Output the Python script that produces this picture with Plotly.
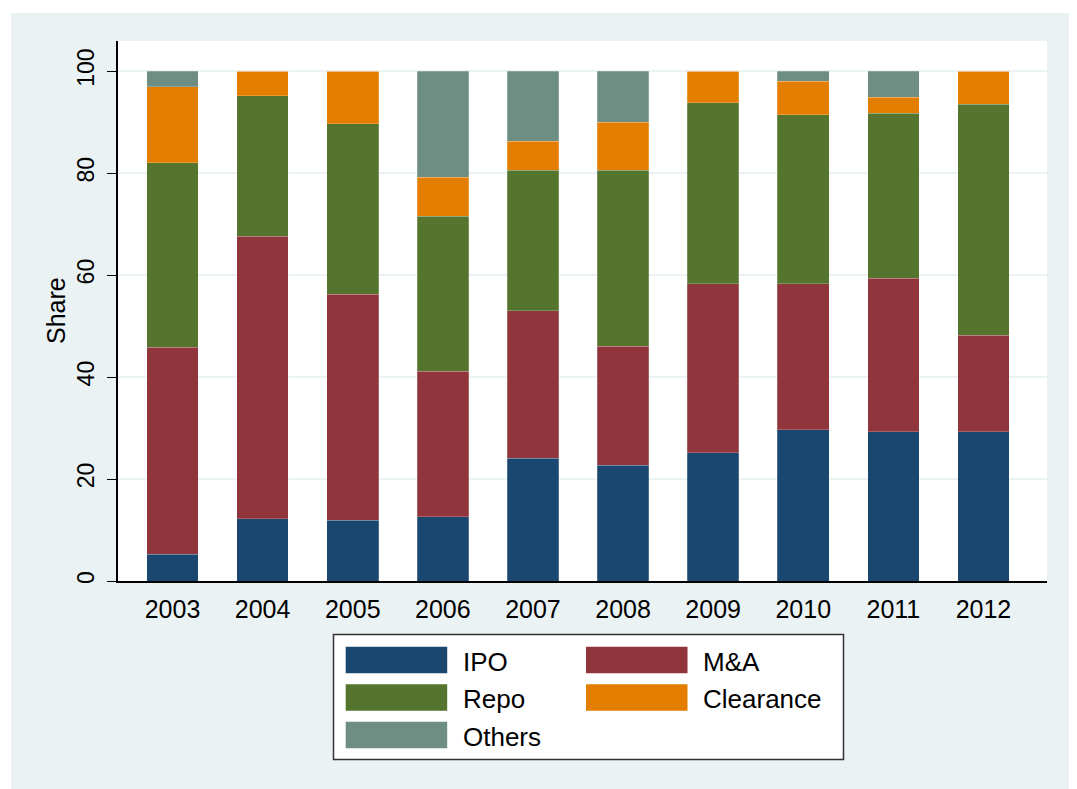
import plotly.graph_objects as go

years = ["2003", "2004", "2005", "2006", "2007", "2008", "2009", "2010", "2011", "2012"]
series_names = ["IPO", "M&A", "Repo", "Clearance", "Others"]
ipo = [5.2, 12.2, 11.9, 12.6, 24.1, 22.7, 25.2, 29.7, 29.3, 29.3]
mna = [40.6, 55.4, 44.3, 28.5, 28.9, 23.3, 33.1, 28.6, 30.1, 18.9]
repo = [36.2, 27.6, 33.5, 30.4, 27.6, 34.6, 35.5, 33.1, 32.3, 45.3]
clearance = [14.9, 4.8, 10.3, 7.7, 5.6, 9.4, 6.2, 6.6, 3.2, 6.5]
others = [3.1, 0.0, 0.0, 20.8, 13.8, 10.0, 0.0, 2.0, 5.1, 0.0]
y_ticks = [0, 20, 40, 60, 80, 100]

colors = ["#1A476F", "#90353B", "#55752F", "#E37E00", "#6E8E84"]
values = [ipo, mna, repo, clearance, others]

OFF = 8  # page body margin
W, H = 1077, 789
# plot area in screen pixels: x 118..1047, y 41..581
L = 118 - OFF
T = 41 - OFF
R = W - (1047 - OFF)
B = H - (581 - OFF)
pw, ph = W - L - R, H - T - B

def px(x):  # screen x -> paper
    return (x - OFF - L) / pw

def py(y):  # screen y -> paper
    return (H - B - (y - OFF)) / ph

FONT = "Liberation Sans, Arial"

fig = go.Figure()
for name, vals, col in zip(series_names, values, colors):
    fig.add_trace(go.Bar(
        x=years, y=vals, name=name, marker_color=col,
        marker_line_width=0.6, marker_line_color="rgba(255,255,255,0.35)",
        width=0.573, showlegend=False,
    ))

shapes = []
annotations = []
# white strips outside the light background (top & left)
shapes.append(dict(type="rect", xref="paper", yref="paper", x0=px(0), x1=px(W + 20), y0=py(0), y1=py(13),
                   fillcolor="white", line_width=0, layer="above"))
shapes.append(dict(type="rect", xref="paper", yref="paper", x0=px(0), x1=px(11), y0=py(0), y1=py(H + 20),
                   fillcolor="white", line_width=0, layer="above"))
# legend box
shapes.append(dict(type="rect", xref="paper", yref="paper", x0=px(333.5), x1=px(843.5), y0=py(634.5), y1=py(759.5),
                   fillcolor="white", line=dict(color="#333333", width=1.5), layer="above"))
col_sw = [345.7, 586.0]
col_tx = [463.0, 703.3]
row_c = [660.0, 697.5, 735.0]
for i, (name, col) in enumerate(zip(series_names, colors)):
    r, c = divmod(i, 2)
    shapes.append(dict(type="rect", xref="paper", yref="paper",
                       x0=px(col_sw[c]), x1=px(col_sw[c] + 101.5),
                       y0=py(row_c[r] - 13.3), y1=py(row_c[r] + 13.3),
                       fillcolor=col, line_width=0, layer="above"))
    annotations.append(dict(xref="paper", yref="paper", x=px(col_tx[c] - 2), y=py(row_c[r] + 1.5),
                            text=name, showarrow=False, xanchor="left", yanchor="middle",
                            font=dict(size=26, color="#000000", family=FONT)))

annotations.append(dict(xref="paper", yref="paper", x=px(56), y=py(311), text="Share", textangle=-90,
                        showarrow=False, xanchor="center", yanchor="middle",
                        font=dict(size=25, color="#000000", family=FONT)))

fig.update_layout(
    width=W, height=H,
    margin=dict(l=L, r=R, t=T, b=B, pad=0),
    barmode="stack",
    paper_bgcolor="#EAF2F3",
    plot_bgcolor="white",
    font=dict(family=FONT, color="#000000"),
    shapes=shapes,
    annotations=annotations,
    showlegend=False,
)
fig.update_xaxes(
    type="category", range=[-0.605, 9.705],
    showline=True, linecolor="#000000", linewidth=1.5,
    ticks="", showgrid=False, tickfont=dict(size=25),
    ticklabelstandoff=5,
)
fig.update_yaxes(
    range=[0, 105.9], tickvals=y_ticks, tickangle=-90,
    showline=True, linecolor="#000000", linewidth=1.5,
    ticks="outside", ticklen=9, tickcolor="#000000", tickwidth=1.2,
    showgrid=True, gridcolor="#EAF2F3", gridwidth=1.5, zeroline=False,
    tickfont=dict(size=23), ticklabelstandoff=4,
)

fig.write_html("out.html")
